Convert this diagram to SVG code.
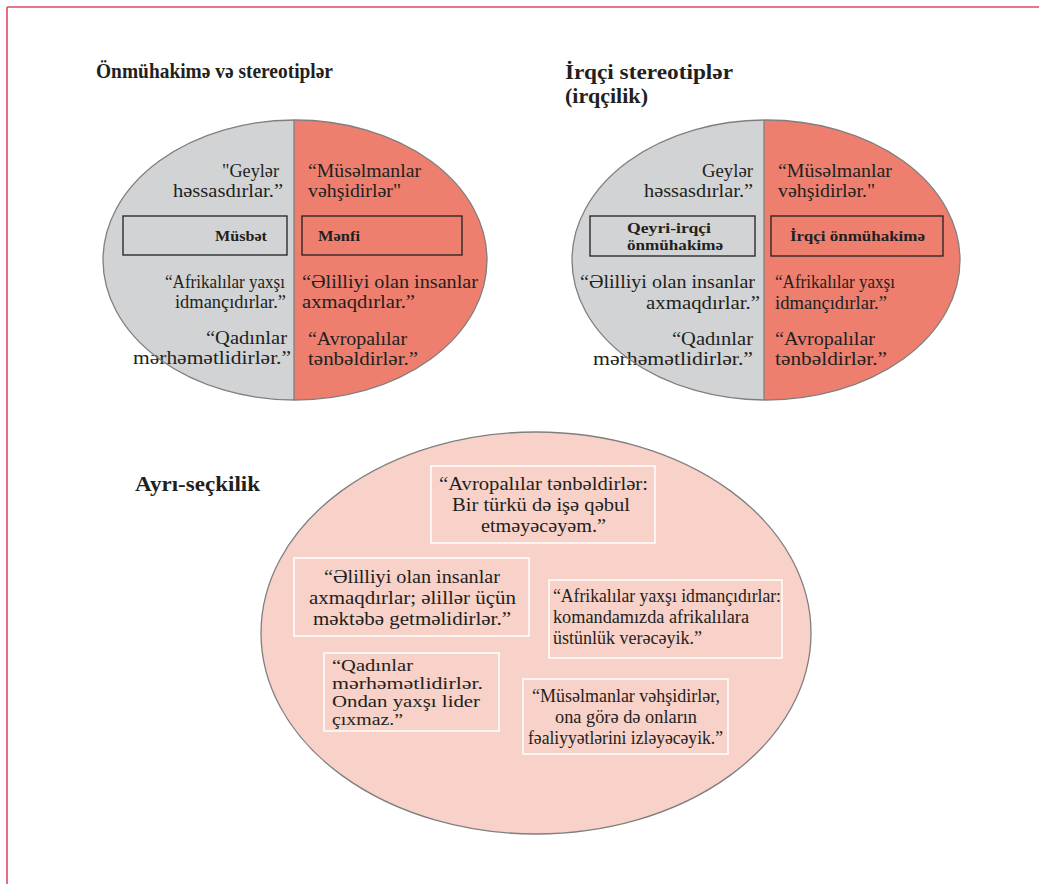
<svg xmlns="http://www.w3.org/2000/svg" width="1039" height="884" viewBox="0 0 1039 884">
<style>
.t{font-family:"Liberation Serif","DejaVu Serif",serif;font-size:19.5px;fill:#231f20}
.s{font-family:"Liberation Serif","DejaVu Serif",serif;font-size:16px;fill:#231f20}
.h{font-family:"Liberation Serif","DejaVu Serif",serif;font-size:21px;font-weight:bold;fill:#231f20}
.b{font-family:"Liberation Serif","DejaVu Serif",serif;font-size:15.5px;font-weight:bold;fill:#231f20}
.ol{fill:none;stroke:#7f7f7f;stroke-width:1.3}
.lb{fill:none;stroke:#231f20;stroke-width:1.3}
.wb{fill:none;stroke:#ffffff;stroke-width:1.5}
</style>
<rect width="1039" height="884" fill="#ffffff"/>
<g id="frame">
<line x1="7" y1="7" x2="1039" y2="7" stroke="#e5485e" stroke-width="1.6"/>
<line x1="7" y1="7" x2="7" y2="884" stroke="#e5485e" stroke-width="1.6"/>
</g>
<g id="titles">
<text class="h" x="96" y="78" textLength="237" lengthAdjust="spacingAndGlyphs">Önmühakimə və stereotiplər</text>
<text class="h" x="565" y="79" textLength="168" lengthAdjust="spacingAndGlyphs">İrqçi stereotiplər</text>
<text class="h" x="565" y="103" textLength="83" lengthAdjust="spacingAndGlyphs">(irqçilik)</text>
<text class="h" x="135" y="491" textLength="125" lengthAdjust="spacingAndGlyphs">Ayrı-seçkilik</text>
</g>
<g id="ellipse-prejudice">
<clipPath id="c1"><ellipse cx="295" cy="260" rx="192" ry="140"/></clipPath>
<g clip-path="url(#c1)">
<rect x="100" y="115" width="194" height="290" fill="#d1d3d4"/>
<rect x="294" y="115" width="200" height="290" fill="#ee7f6f"/>
</g>
<line x1="294" y1="120" x2="294" y2="400" class="ol"/>
<rect x="123" y="216" width="164" height="39" class="lb"/>
<rect x="302" y="216" width="160" height="39" class="lb"/>
<text class="b" x="215" y="241" textLength="52" lengthAdjust="spacingAndGlyphs">Müsbət</text>
<text class="b" x="318" y="241" textLength="42" lengthAdjust="spacingAndGlyphs">Mənfi</text>
<text class="t" x="222" y="177" textLength="57" lengthAdjust="spacingAndGlyphs">"Geylər</text>
<text class="t" x="173" y="197" textLength="110" lengthAdjust="spacingAndGlyphs">həssasdırlar.”</text>
<text class="t" x="308" y="177" textLength="113" lengthAdjust="spacingAndGlyphs">“Müsəlmanlar</text>
<text class="t" x="308" y="197" textLength="93" lengthAdjust="spacingAndGlyphs">vəhşidirlər"</text>
<text class="t" x="165" y="288" textLength="120" lengthAdjust="spacingAndGlyphs">“Afrikalılar yaxşı</text>
<text class="t" x="175" y="308" textLength="111" lengthAdjust="spacingAndGlyphs">idmançıdırlar.”</text>
<text class="t" x="302" y="288" textLength="176" lengthAdjust="spacingAndGlyphs">“Əlilliyi olan insanlar</text>
<text class="t" x="302" y="308" textLength="113" lengthAdjust="spacingAndGlyphs">axmaqdırlar.”</text>
<text class="t" x="206" y="344" textLength="81" lengthAdjust="spacingAndGlyphs">“Qadınlar</text>
<text class="t" x="133" y="364" textLength="158" lengthAdjust="spacingAndGlyphs">mərhəmətlidirlər.”</text>
<text class="t" x="308" y="345" textLength="99" lengthAdjust="spacingAndGlyphs">“Avropalılar</text>
<text class="t" x="308" y="365" textLength="110" lengthAdjust="spacingAndGlyphs">tənbəldirlər.”</text>
<ellipse cx="295" cy="260" rx="192" ry="140" class="ol"/>
</g>
<g id="ellipse-racism">
<clipPath id="c2"><ellipse cx="766" cy="260" rx="194" ry="140"/></clipPath>
<g clip-path="url(#c2)">
<rect x="570" y="115" width="194" height="290" fill="#d1d3d4"/>
<rect x="764" y="115" width="200" height="290" fill="#ee7f6f"/>
</g>
<line x1="764" y1="120" x2="764" y2="400" class="ol"/>
<rect x="590" y="216" width="165" height="40" class="lb"/>
<rect x="771" y="216" width="172" height="40" class="lb"/>
<text class="b" x="627" y="233" textLength="84" lengthAdjust="spacingAndGlyphs">Qeyri-irqçi</text>
<text class="b" x="627" y="250" textLength="96" lengthAdjust="spacingAndGlyphs">önmühakimə</text>
<text class="b" x="790" y="241" textLength="135" lengthAdjust="spacingAndGlyphs">İrqçi önmühakimə</text>
<text class="t" x="702" y="177" textLength="51" lengthAdjust="spacingAndGlyphs">Geylər</text>
<text class="t" x="644" y="197" textLength="109" lengthAdjust="spacingAndGlyphs">həssasdırlar.”</text>
<text class="t" x="778" y="177" textLength="114" lengthAdjust="spacingAndGlyphs">“Müsəlmanlar</text>
<text class="t" x="778" y="197" textLength="97" lengthAdjust="spacingAndGlyphs">vəhşidirlər."</text>
<text class="t" x="580" y="288" textLength="175" lengthAdjust="spacingAndGlyphs">“Əlilliyi olan insanlar</text>
<text class="t" x="646" y="309" textLength="114" lengthAdjust="spacingAndGlyphs">axmaqdırlar.”</text>
<text class="t" x="775" y="288" textLength="120" lengthAdjust="spacingAndGlyphs">“Afrikalılar yaxşı</text>
<text class="t" x="775" y="309" textLength="112" lengthAdjust="spacingAndGlyphs">idmançıdırlar.”</text>
<text class="t" x="672" y="345" textLength="81" lengthAdjust="spacingAndGlyphs">“Qadınlar</text>
<text class="t" x="593" y="365" textLength="160" lengthAdjust="spacingAndGlyphs">mərhəmətlidirlər.”</text>
<text class="t" x="775" y="345" textLength="100" lengthAdjust="spacingAndGlyphs">“Avropalılar</text>
<text class="t" x="775" y="365" textLength="112" lengthAdjust="spacingAndGlyphs">tənbəldirlər.”</text>
<ellipse cx="766" cy="260" rx="194" ry="140" class="ol"/>
</g>
<g id="ellipse-discrimination">
<ellipse cx="536" cy="633" rx="275" ry="201" fill="#f8d1c8" stroke="#7f7f7f" stroke-width="1.3"/>
</g>
<g id="box-europeans">
<rect x="431" y="466" width="224" height="77" class="wb"/>
<text class="t" x="439" y="490" textLength="209" lengthAdjust="spacingAndGlyphs">“Avropalılar tənbəldirlər:</text>
<text class="t" x="452" y="511" textLength="178" lengthAdjust="spacingAndGlyphs">Bir türkü də işə qəbul</text>
<text class="t" x="481" y="532" textLength="125" lengthAdjust="spacingAndGlyphs">etməyəcəyəm.”</text>
</g>
<g id="box-disabled">
<rect x="294" y="558" width="235" height="78" class="wb"/>
<text class="t" x="324" y="583" textLength="176" lengthAdjust="spacingAndGlyphs">“Əlilliyi olan insanlar</text>
<text class="t" x="309" y="604" textLength="207" lengthAdjust="spacingAndGlyphs">axmaqdırlar; əlillər üçün</text>
<text class="t" x="313" y="625" textLength="198" lengthAdjust="spacingAndGlyphs">məktəbə getməlidirlər.”</text>
</g>
<g id="box-africans">
<rect x="549" y="580" width="233" height="78" class="wb"/>
<text class="t" x="553" y="602" textLength="228" lengthAdjust="spacingAndGlyphs">“Afrikalılar yaxşı idmançıdırlar:</text>
<text class="t" x="553" y="623" textLength="196" lengthAdjust="spacingAndGlyphs">komandamızda afrikalılara</text>
<text class="t" x="553" y="644" textLength="149" lengthAdjust="spacingAndGlyphs">üstünlük verəcəyik.”</text>
</g>
<g id="box-women">
<rect x="324" y="653" width="175" height="78" class="wb"/>
<text class="s" x="332" y="671" textLength="81" lengthAdjust="spacingAndGlyphs">“Qadınlar</text>
<text class="s" x="332" y="689" textLength="151" lengthAdjust="spacingAndGlyphs">mərhəmətlidirlər.</text>
<text class="s" x="332" y="707" textLength="148" lengthAdjust="spacingAndGlyphs">Ondan yaxşı lider</text>
<text class="s" x="332" y="725" textLength="71" lengthAdjust="spacingAndGlyphs">çıxmaz.”</text>
</g>
<g id="box-muslims">
<rect x="523" y="679" width="205" height="75" class="wb"/>
<text class="t" x="532" y="702" textLength="188" lengthAdjust="spacingAndGlyphs">“Müsəlmanlar vəhşidirlər,</text>
<text class="t" x="555" y="723" textLength="142" lengthAdjust="spacingAndGlyphs">ona görə də onların</text>
<text class="t" x="528" y="744" textLength="195" lengthAdjust="spacingAndGlyphs">fəaliyyətlərini izləyəcəyik.”</text>
</g>
<g id="connectors"></g>
</svg>
